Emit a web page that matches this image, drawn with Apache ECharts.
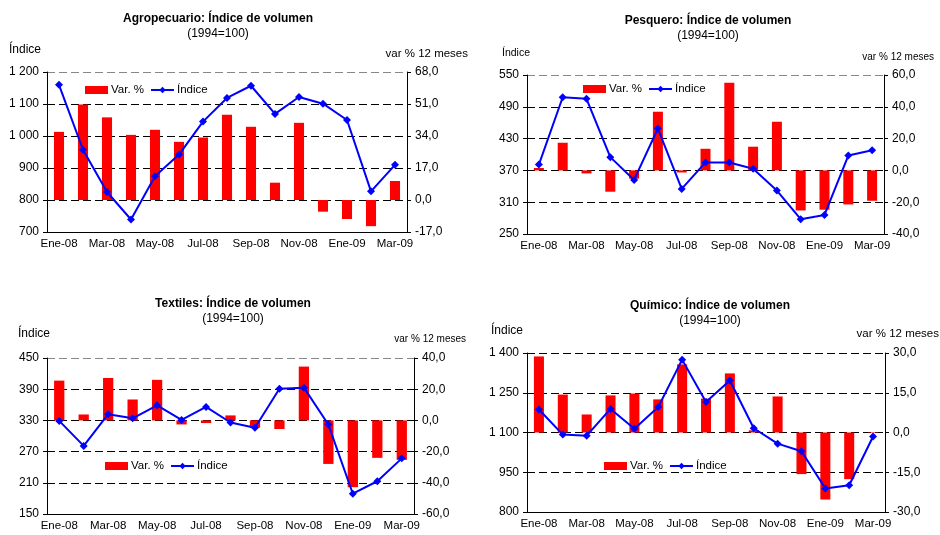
<!DOCTYPE html>
<html>
<head>
<meta charset="utf-8">
<script src="https://cdn.jsdelivr.net/npm/echarts@6/dist/echarts.min.js"></script>
<style>
html, body { margin: 0; padding: 0; background: #fff; }
#main { width: 940px; height: 535px; }
</style>
</head>
<body>
<div id="main"></div>
<script>
// meses (eje de categorias)
const meses = ['Ene-08', 'Feb-08', 'Mar-08', 'Abr-08', 'May-08', 'Jun-08', 'Jul-08', 'Ago-08',
    'Sep-08', 'Oct-08', 'Nov-08', 'Dic-08', 'Ene-09', 'Feb-09', 'Mar-09'];

// Agropecuario
const agroIndice = [1160, 957, 825, 739, 874, 942, 1045, 1119, 1157, 1069, 1122, 1101, 1050, 827, 910];
const agroVar = [36.2, 50.8, 43.9, 34.6, 37.3, 30.9, 33.2, 45.3, 38.9, 9.2, 41.0, -6.2, -10.1, -13.9, 10.1];
const agroEjeIndice = [700, 1200];
const agroEjeVar = [-17, 68, 17];

// Pesquero
const pesqIndice = [381, 508, 505, 395, 352, 449, 335, 385, 385, 373, 332, 278, 286, 398, 408];
const pesqVar = [1.5, 17.4, -1.9, -13.4, -5.2, 36.9, -1.3, 13.6, 55.1, 14.9, 30.6, -25.2, -24.7, -21.4, -19.1];
const pesqEjeIndice = [250, 550];
const pesqEjeVar = [-40, 60, 20];

// Textiles
const textIndice = [329, 281, 342, 334, 359, 331, 356, 326, 316, 391, 393, 322, 189, 213, 257];
const textVar = [25.5, 3.8, 27.2, 13.4, 26.0, -2.6, -1.7, 3.2, -4.7, -5.5, 34.5, -27.9, -42.8, -24.0, -25.3];
const textEjeIndice = [150, 450];
const textEjeVar = [-60, 40, 20];

// Quimico
const quimIndice = [1187, 1092, 1088, 1189, 1114, 1196, 1375, 1215, 1296, 1116, 1058, 1029, 889, 901, 1085];
const quimVar = [28.7, 14.3, 6.8, 14.0, 14.7, 12.5, 25.7, 12.8, 22.3, 0.8, 13.6, -15.7, -25.3, -17.6, 0.2];
const quimEjeIndice = [800, 1400];
const quimEjeVar = [-30, 30, 15];

const FUENTE = 'Liberation Sans, Arial, sans-serif';

const paneles = [
    {
        titulo: 'Agropecuario: Índice de volumen', indice: agroIndice, variacion: agroVar,
        ejeIndice: agroEjeIndice, ejeVar: agroEjeVar,
        grid: { left: 47, top: 72, width: 360, height: 160 },
        tituloXY: [218, 19], leyenda: [85, 84],
        nombreIzq: [9, 50, 12], nombreDer: [468, 54, 11.5]
    },
    {
        titulo: 'Pesquero: Índice de volumen', indice: pesqIndice, variacion: pesqVar,
        ejeIndice: pesqEjeIndice, ejeVar: pesqEjeVar,
        grid: { left: 527, top: 75, width: 357, height: 159 },
        tituloXY: [708, 21], leyenda: [583, 83],
        nombreIzq: [502, 53, 10.5], nombreDer: [934, 57, 10]
    },
    {
        titulo: 'Textiles: Índice de volumen', indice: textIndice, variacion: textVar,
        ejeIndice: textEjeIndice, ejeVar: textEjeVar,
        grid: { left: 47, top: 358, width: 367, height: 156 },
        tituloXY: [233, 304], leyenda: [105, 460],
        nombreIzq: [18, 334, 12], nombreDer: [466, 339, 10]
    },
    {
        titulo: 'Químico: Índice de volumen', indice: quimIndice, variacion: quimVar,
        ejeIndice: quimEjeIndice, ejeVar: quimEjeVar,
        grid: { left: 527, top: 353, width: 358, height: 159 },
        tituloXY: [710, 306], leyenda: [604, 460],
        nombreIzq: [491, 331, 12], nombreDer: [939, 334, 11.5]
    }
];

function miles(v) {
    let s = String(Math.round(v));
    return s.replace(/\B(?=(\d{3})+(?!\d))/g, ' ');
}

function decimal(v) {
    return v.toFixed(1).replace('.', ',');
}

let grids = [], xAxes = [], yAxes = [], series = [], legends = [], textos = [];

paneles.forEach(function (p, i) {
    grids.push(Object.assign({ containLabel: false }, p.grid));

    xAxes.push({
        type: 'category',
        gridIndex: i,
        data: meses,
        boundaryGap: true,
        axisLine: { onZero: false, lineStyle: { color: '#000', width: 1 } },
        axisTick: { interval: 1, length: 5, lineStyle: { color: '#000' } },
        axisLabel: { interval: 1, color: '#000', fontSize: 11.5, fontFamily: FUENTE, margin: 6 }
    });

    // eje izquierdo: indice (se alinea con el eje de variacion)
    yAxes.push({
        type: 'value',
        gridIndex: i,
        position: 'left',
        min: p.ejeIndice[0],
        max: p.ejeIndice[1],
        alignTicks: true,
        axisLine: { show: true, lineStyle: { color: '#000' } },
        axisTick: { show: true, length: 4, lineStyle: { color: '#000' } },
        axisLabel: { color: '#000', fontSize: 12, fontFamily: FUENTE, margin: 8, formatter: miles },
        splitLine: { show: false }
    });

    // eje derecho: var % 12 meses
    yAxes.push({
        type: 'value',
        gridIndex: i,
        position: 'right',
        min: p.ejeVar[0],
        max: p.ejeVar[1],
        interval: p.ejeVar[2],
        axisLine: { show: true, lineStyle: { color: '#000' } },
        axisTick: { show: true, length: 4, lineStyle: { color: '#000' } },
        axisLabel: { color: '#000', fontSize: 12, fontFamily: FUENTE, margin: 8, formatter: decimal },
        splitLine: {
            show: true,
            lineStyle: { color: ['#000', '#000', '#000', '#000', '#000', '#888'], type: [8, 4], width: 1 }
        }
    });

    series.push({
        type: 'bar',
        name: 'Var. %',
        xAxisIndex: i,
        yAxisIndex: 2 * i + 1,
        data: p.variacion,
        barWidth: '42%',
        itemStyle: { color: '#FF0000' },
        z: 2
    });

    series.push({
        type: 'line',
        name: 'Índice',
        xAxisIndex: i,
        yAxisIndex: 2 * i,
        data: p.indice,
        symbol: 'diamond',
        symbolSize: 8,
        lineStyle: { color: '#0000FF', width: 2 },
        itemStyle: { color: '#0000FF' },
        z: 3
    });

    legends.push({
        left: p.leyenda[0],
        top: p.leyenda[1],
        padding: 0,
        itemGap: 6,
        itemWidth: 23,
        itemHeight: 8,
        selectedMode: false,
        data: [{ name: 'Var. %', icon: 'rect' }, 'Índice'],
        textStyle: { color: '#000', fontSize: 11.5, fontFamily: FUENTE, padding: [0, 0, 0, -2] }
    });

    textos.push({
        type: 'text',
        x: p.tituloXY[0], y: p.tituloXY[1],
        style: { text: p.titulo, fill: '#000', font: 'bold 12px ' + FUENTE, textAlign: 'center', textVerticalAlign: 'middle' }
    });
    textos.push({
        type: 'text',
        x: p.tituloXY[0], y: p.tituloXY[1] + 15,
        style: { text: '(1994=100)', fill: '#000', font: '12px ' + FUENTE, textAlign: 'center', textVerticalAlign: 'middle' }
    });
    textos.push({
        type: 'text',
        x: p.nombreIzq[0], y: p.nombreIzq[1],
        style: { text: 'Índice', fill: '#000', font: p.nombreIzq[2] + 'px ' + FUENTE, textAlign: 'left', textVerticalAlign: 'middle' }
    });
    textos.push({
        type: 'text',
        x: p.nombreDer[0], y: p.nombreDer[1],
        style: { text: 'var % 12 meses', fill: '#000', font: p.nombreDer[2] + 'px ' + FUENTE, textAlign: 'right', textVerticalAlign: 'middle' }
    });
});

let myChart = echarts.init(document.getElementById('main'));
let option = {
    animation: false,
    backgroundColor: '#fff',
    textStyle: { fontFamily: FUENTE },
    grid: grids,
    xAxis: xAxes,
    yAxis: yAxes,
    legend: legends,
    series: series,
    graphic: textos
};
myChart.setOption(option);
</script>
</body>
</html>
